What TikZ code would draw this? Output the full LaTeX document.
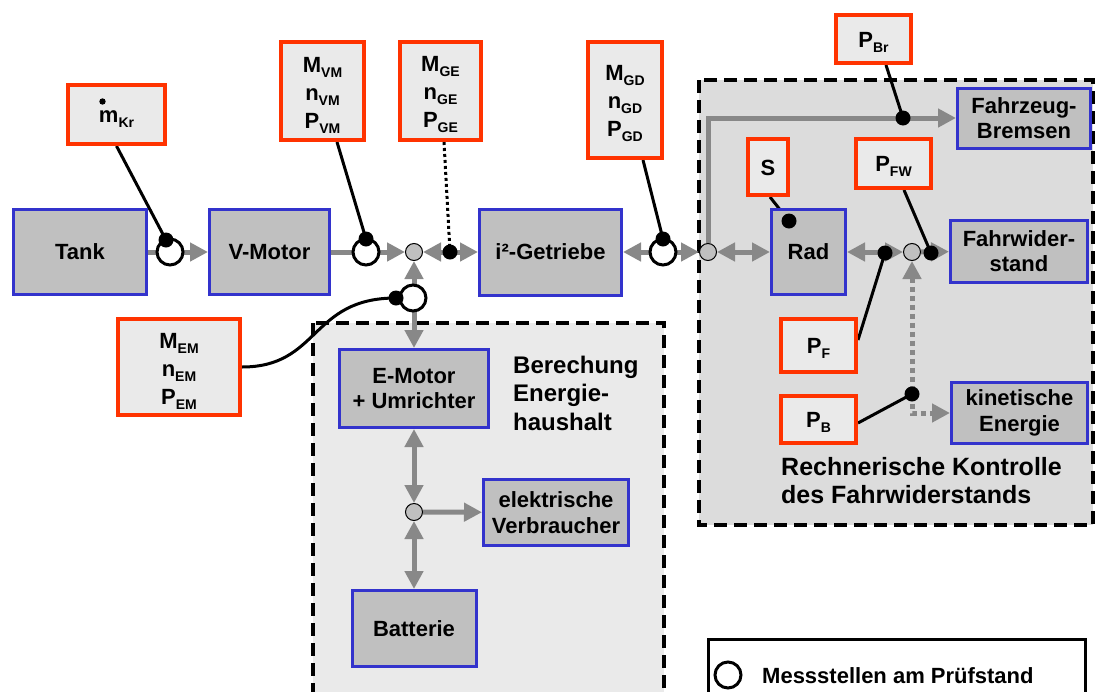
\documentclass[tikz,border=0pt]{standalone}
\usepackage{fontspec}
\setmainfont{Liberation Sans}
\usetikzlibrary{arrows.meta}
\definecolor{bblue}{RGB}{51,51,204}
\definecolor{rred}{RGB}{255,51,0}
\definecolor{boxgray}{RGB}{192,192,192}
\definecolor{lgray}{RGB}{234,234,234}
\definecolor{rgray}{RGB}{220,220,220}
\definecolor{agray}{RGB}{136,136,136}
\newcommand\sbs[1]{\raisebox{-5pt}{\fontsize{14}{14}\selectfont #1}}
\newcommand\fln{\rule{0pt}{23pt}}
\pgfdeclarelayer{bg}\pgfdeclarelayer{mid}\pgfsetlayers{bg,mid,main}
\begin{document}
\begin{tikzpicture}[x=1pt,y=-1pt,
 blk/.style={draw=bblue, fill=boxgray, line width=3pt, inner sep=0pt, align=center, font=\bfseries\fontsize{22}{25.5}\selectfont},
 meas/.style={draw=rred, fill=lgray, line width=4pt, inner sep=0pt, align=center, font=\bfseries\fontsize{22}{28}\selectfont},
 one/.style={text height=21pt, text depth=5pt},
 junc/.style={circle, draw=black, line width=1pt, fill=boxgray, minimum size=17pt, inner sep=0pt},
 mcirc/.style={circle, draw=black, line width=3pt, fill=white, minimum size=26pt, inner sep=0pt},
 bdot/.style={circle, fill=black, minimum size=15pt, inner sep=0pt},
 flow/.style={draw=agray, line width=5pt, >={Triangle[length=18pt,width=18pt]}},
 bline/.style={draw=black, line width=3pt},
 region/.style={draw=black, line width=4pt, dash pattern=on 13pt off 7pt},
 rtext/.style={anchor=north west, inner sep=0pt, align=left}
]
\useasboundingbox (0,0) rectangle (1098,691);
% regions
\begin{pgfonlayer}{bg}
\fill[rgray] (699,80) rectangle (1093,525);
\draw[region] (699,80) rectangle (1093,525);
\fill[lgray] (313,323) rectangle (664,720);
\draw[region] (313,323) rectangle (664,720);
\draw[black, line width=3pt] (708,639) rectangle (1085,720);
\end{pgfonlayer}
% blue boxes
\node[blk, minimum width=133pt, minimum height=85pt] (tank) at (80,252) {Tank};
\node[blk, minimum width=120pt, minimum height=85pt] (vmot) at (269.5,252) {V-Motor};
\node[blk, minimum width=142pt, minimum height=86pt] (getr) at (550.5,252) {i²-Getriebe};
\node[blk, minimum width=74pt, minimum height=85pt] (rad) at (808.5,252) {Rad};
\node[blk, minimum width=133pt, minimum height=60pt] (brems) at (1024,118) {Fahrzeug-\\Bremsen};
\node[blk, minimum width=137pt, minimum height=62pt] (fwid) at (1019,251) {Fahrwider-\\stand};
\node[blk, minimum width=136pt, minimum height=61pt] (kinE) at (1019.5,413) {kinetische\\Energie};
\node[blk, minimum width=149pt, minimum height=78pt] (emot) at (414,388.5) {E-Motor\\+ Umrichter};
\node[blk, minimum width=145pt, minimum height=66pt] (verb) at (556,512.5) {elektrische\\Verbraucher};
\node[blk, minimum width=124pt, minimum height=76pt] (batt) at (414,628.5) {Batterie};
% red boxes
\node[meas, one, minimum width=97pt, minimum height=59pt] (mkr) at (116.5,114.5) {m\sbs{Kr}};
\node[meas, minimum width=83pt, minimum height=98pt] (mvm) at (322.5,91) {\fln M\sbs{VM}\\n\sbs{VM}\\P\sbs{VM}};
\node[meas, minimum width=81pt, minimum height=98pt] (mge) at (440.5,91) {\fln M\sbs{GE}\\n\sbs{GE}\\P\sbs{GE}};
\node[meas, minimum width=74pt, minimum height=116pt] (mgd) at (625,100) {\fln M\sbs{GD}\\n\sbs{GD}\\P\sbs{GD}};
\node[meas, one, minimum width=75pt, minimum height=48pt] (pbr) at (873.5,39) {P\sbs{Br}};
\node[meas, one, minimum width=40pt, minimum height=56pt] (s) at (768,167) {S};
\node[meas, one, minimum width=75pt, minimum height=49pt] (pfw) at (893.5,163.5) {P\sbs{FW}};
\node[meas, one, minimum width=75pt, minimum height=53pt] (pf) at (818.5,345.5) {P\sbs{F}};
\node[meas, one, minimum width=75pt, minimum height=47pt] (pb) at (818.5,419.5) {P\sbs{B}};
\node[meas, minimum width=122pt, minimum height=96pt] (mem) at (179,367) {\fln M\sbs{EM}\\n\sbs{EM}\\P\sbs{EM}};
\fill (mkr.center) ++(-14,-13) circle (3.2);
% junctions
\node[junc] (j1) at (414,252) {};
\node[junc] (j2) at (708,252) {};
\node[junc] (j3) at (912,252) {};
\node[junc] (j4) at (414,512) {};
% measuring circles
\node[mcirc] (ckr) at (170,252) {};
\node[mcirc] (cvm) at (366,252) {};
\node[mcirc] (cgd) at (663,252) {};
\node[mcirc] (cem) at (413,298) {};
% dots
\node[bdot] (dkr) at (166,240) {};
\node[bdot] (dvm) at (366,239) {};
\node[bdot] (dge) at (450,252) {};
\node[bdot] (dgd) at (663,239) {};
\node[bdot] (dem) at (396,298) {};
\node[bdot] (dbr) at (903,118) {};
\node[bdot] (ds) at (789,221) {};
\node[bdot] (df) at (885,253) {};
\node[bdot] (dfw) at (931,253) {};
\node[bdot] (db) at (912,394) {};
% flows
\begin{pgfonlayer}{mid}
\draw[flow,->] (tank) -- (vmot);
\draw[flow,->] (vmot) -- (j1);
\draw[flow,<->] (j1) -- (getr);
\draw[flow,<->] (j1) -- (emot);
\draw[flow,<->] (getr) -- (j2);
\draw[flow,<->] (j2) -- (rad);
\draw[flow,->] (j2) |- (brems);
\draw[flow,<->] (rad) -- (j3);
\draw[flow,->] (j3) -- (fwid);
\draw[flow,<->,dash pattern=on 5pt off 4pt] (j3) |- (kinE);
\draw[flow,<->] (emot) -- (j4);
\draw[flow,<->] (j4) -- (batt);
\draw[flow,->] (j4) -- (verb);
% measurement lines
\draw[bline] (mkr.south) -- (dkr.center);
\draw[bline] ([xshift=14.5pt]mvm.south) -- (dvm.center);
\draw[bline, dash pattern=on 3pt off 3pt] ([xshift=3.5pt]mge.south) -- (dge.center);
\draw[bline] ([xshift=18pt]mgd.south) -- (dgd.center);
\draw[bline] (mem.east) .. controls (320,367) and (310,298) .. (dem.center);
\draw[bline] ([xshift=12.5pt]pbr.south) -- (dbr.center);
\draw[bline] ([xshift=2pt]s.south) -- (ds.center);
\draw[bline] ([xshift=10.5pt]pfw.south) -- (dfw.center);
\draw[bline] ([yshift=5.5pt]pf.east) -- (df.center);
\draw[bline] ([yshift=-3.5pt]pb.east) -- (db.center);
\end{pgfonlayer}
% texts
\node[rtext, font=\bfseries\fontsize{24}{28.5}\selectfont] (ber) at (513,355.8) {Berechung\\Energie-\\haushalt};
\node[rtext, font=\bfseries\fontsize{25}{28}\selectfont] (rech) at (781,457) {Rechnerische Kontrolle\\des Fahrwiderstands};
\node[mcirc] (leg) at (728,675) {};
\node[anchor=base west, inner sep=0pt, font=\bfseries\fontsize{22}{26}\selectfont] (legt) at (762,683) {Messstellen am Prüfstand};
\end{tikzpicture}
\end{document}
